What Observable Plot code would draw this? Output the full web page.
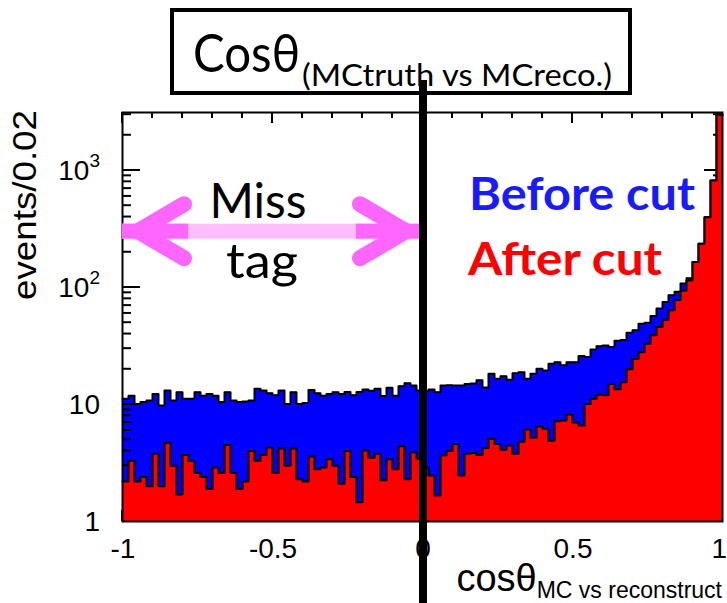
<!DOCTYPE html>
<html>
<head>
<meta charset="utf-8">
<script src="https://cdn.jsdelivr.net/npm/d3@7"></script>
<script src="https://cdn.jsdelivr.net/npm/@observablehq/plot@0.6"></script>
<style>
  html, body { margin: 0; padding: 0; background: #fff; }
  #chart { width: 727px; height: 603px; overflow: hidden; }
  #chart svg { display: block; }
</style>
</head>
<body>
<div id="chart"></div>
<script>
// cosθ histogram, 100 bins of width 0.02 on [-1, 1]
const binLow = -1;
const binWidth = 0.02;

// events per bin before the selection cut
const beforeCut = [
  11.2, 11.9, 10.1, 10.5, 10.8, 12.3, 9.8, 13.2, 10.8, 12.7,
  11.2, 11.2, 12.7, 11.9, 12.3, 11.9, 10.5, 12.7, 10.8, 10.5,
  10.6, 10.8, 13.6, 13.2, 12.5, 12.0, 13.2, 10.1, 12.7, 10.1,
  10.3, 13.3, 12.5, 11.9, 12.3, 12.7, 12.3, 12.8, 12.0, 12.8,
  13.4, 13.1, 13.6, 11.8, 13.9, 11.9, 14.3, 15.2, 14.5, 13.2,
  13.0, 13.4, 12.7, 14.5, 14.6, 14.5, 14.5, 15.0, 15.1, 16.1,
  14.0, 18.3, 16.6, 17.4, 16.3, 18.5, 18.9, 16.6, 18.3, 20.2,
  19.5, 22.3, 23.0, 21.6, 23.0, 23.0, 26.0, 25.5, 29.5, 31.5,
  32.0, 31.0, 35.0, 35.5, 41.0, 43.0, 49.0, 50.0, 57.0, 66.0,
  75.0, 86.0, 92.0, 108, 120, 165, 236, 398, 820, 3000
];

// events per bin after the selection cut
const afterCut = [
  2.2, 3.3, 2.2, 2.4, 2.0, 3.8, 2.0, 4.7, 3.0, 1.7,
  3.7, 3.3, 2.6, 2.4, 1.9, 2.9, 2.6, 4.5, 2.6, 1.9,
  2.2, 4.0, 3.3, 3.7, 4.3, 2.6, 4.2, 3.0, 4.2, 2.3,
  2.2, 3.6, 2.8, 2.9, 3.4, 3.0, 2.1, 4.0, 2.4, 1.46,
  4.05, 3.5, 3.8, 2.25, 3.4, 2.8, 4.4, 2.3, 3.9, 3.45,
  2.9, 2.47, 1.67, 3.66, 4.0, 4.6, 2.47, 3.8, 3.85, 3.7,
  4.25, 5.1, 4.6, 4.1, 4.46, 3.8, 4.8, 6.1, 5.2, 6.5,
  6.2, 4.9, 7.2, 7.3, 8.2, 7.0, 6.6, 10.1, 11.2, 12.1,
  12.0, 15.0, 13.5, 15.5, 20.0, 24.5, 28.0, 33.0, 39.0, 46.0,
  53.0, 64.0, 78.0, 94.0, 115, 165, 236, 398, 820, 3000
];

const xTickValues = [-1, -0.5, 0, 0.5, 1];
const xTickLabels = ["-1", "-0.5", "0", "0.5", "1"];
const yTickValues = [1, 10, 100, 1000];
const yTickBases = ["1", "10", "10", "10"];
const yTickExponents = ["", "", "2", "3"];

// region flagged as a wrong tag: cosθ < 0, drawn at 300 events
const missTagRange = [-1, 0];
const missTagLevel = 300;

// step points: left edge of every bin, plus the closing edge at x = 1
function steps(values) {
  const pts = values.map((v, i) => ({x: binLow + i * binWidth, v}));
  pts.push({x: binLow + values.length * binWidth, v: values[values.length - 1]});
  return pts;
}
const beforeSteps = steps(beforeCut);
const afterSteps = steps(afterCut);

const plot = Plot.plot({
  width: 727,
  height: 603,
  marginLeft: 122,
  marginRight: 5,
  marginTop: 112,
  marginBottom: 82,
  style: {background: "white", overflow: "visible"},
  x: {domain: [-1, 1], axis: null},
  y: {type: "log", domain: [1, 3130], axis: null},
  marks: [
    Plot.area(beforeSteps, {x1: "x", y1: () => 1, y2: "v", curve: "step-after", fill: "#0000ff"}),
    Plot.line(beforeSteps, {x: "x", y: "v", curve: "step-after", stroke: "black", strokeWidth: 2}),
    Plot.area(afterSteps, {x1: "x", y1: () => 1, y2: "v", curve: "step-after", fill: "#ff0000"}),
    Plot.line(afterSteps, {x: "x", y: "v", curve: "step-after", stroke: "black", strokeWidth: 2}),
    Plot.frame({stroke: "black", strokeWidth: 2})
  ]
});

document.getElementById("chart").appendChild(plot);

// pixel mapping taken from the plot's own scales
const sx = plot.scale("x"), sy = plot.scale("y");
const x = d3.scaleLinear(sx.domain, sx.range);
const y = d3.scaleLog(sy.domain, sy.range);
const [xl, xr] = x.range();
const [yb, yt] = y.range();

// inner ticks (ROOT style), drawn above the "before" fill and under the "after" fill
const ticks = d3.create("svg:g").attr("stroke", "black").attr("stroke-width", 2);
for (const v of y.ticks()) {
  if (v <= y.domain()[0]) continue;
  const len = yTickValues.includes(v) ? 18 : 9;
  const py = y(v);
  ticks.append("line").attr("x1", xl).attr("x2", xl + len).attr("y1", py).attr("y2", py);
  ticks.append("line").attr("x1", xr - len).attr("x2", xr).attr("y1", py).attr("y2", py);
}
for (const v of x.ticks(20)) {
  const major = Math.abs(v * 2 - Math.round(v * 2)) < 1e-9;
  const len = major ? 11 : 6;
  const px = x(v);
  ticks.append("line").attr("x1", px).attr("x2", px).attr("y1", yt).attr("y2", yt + len);
  ticks.append("line").attr("x1", px).attr("x2", px).attr("y1", yb).attr("y2", yb - len);
}
const markGroups = plot.querySelectorAll(":scope > g");
plot.insertBefore(ticks.node(), markGroups[2]);

const over = d3.select(plot).append("g").attr("text-anchor", "start");
const axisFont = "'Liberation Sans', Arial, Helvetica, sans-serif";
const noteFont = "Lato, 'Open Sans', sans-serif";

// y tick labels
yTickValues.forEach((v, i) => {
  const t = over.append("text")
    .attr("x", 100).attr("y", y(v) + 10)
    .attr("text-anchor", "end")
    .attr("font-family", axisFont).attr("font-size", 28).attr("fill", "black")
    .text(yTickBases[i]);
  if (yTickExponents[i]) {
    t.append("tspan").attr("font-size", 19).attr("dy", -13).text(yTickExponents[i]);
  }
});

// x tick labels (the last one sits against the right edge)
xTickValues.forEach((v, i) => {
  const last = i === xTickValues.length - 1;
  over.append("text")
    .attr("x", last ? 727 : x(v) + 1).attr("y", 558)
    .attr("text-anchor", last ? "end" : "middle")
    .attr("font-family", axisFont).attr("font-size", 28).attr("fill", "black")
    .text(xTickLabels[i]);
});

// axis titles
over.append("text")
  .attr("transform", "translate(36,110) rotate(-90)")
  .attr("text-anchor", "end")
  .attr("font-family", axisFont).attr("font-size", 34)
  .attr("textLength", 190).attr("lengthAdjust", "spacingAndGlyphs")
  .text("events/0.02");

const xt = over.append("text")
  .attr("x", xr).attr("y", 591)
  .attr("text-anchor", "end")
  .attr("font-family", axisFont).attr("font-size", 38);
xt.append("tspan").text("cosθ");
xt.append("tspan").attr("font-size", 23).attr("dy", 7).text("MC vs reconstruct");

// miss-tag double arrow over cosθ < 0
const ay = y(missTagLevel);
const ax0 = x(missTagRange[0]), ax1 = x(missTagRange[1]);
const headLen = 66;
over.append("rect").attr("x", ax0).attr("y", ay - 7.5).attr("width", ax1 - ax0).attr("height", 15).attr("fill", "#ffbfff");
over.append("rect").attr("x", ax0).attr("y", ay - 7.5).attr("width", headLen).attr("height", 15).attr("fill", "#ff66ff");
over.append("rect").attr("x", ax1 - headLen).attr("y", ay - 7.5).attr("width", headLen).attr("height", 15).attr("fill", "#ff66ff");
const armW = 16, tipIn = 16, armDx = 46, armDy = 27;
[[ax0, 1], [ax1, -1]].forEach(([tx, dir]) => {
  const vx = tx + dir * tipIn;
  over.append("path")
    .attr("d", `M${vx + dir * armDx},${ay - armDy}L${vx},${ay}L${vx + dir * armDx},${ay + armDy}`)
    .attr("fill", "none").attr("stroke", "#ff66ff").attr("stroke-width", armW)
    .attr("stroke-linejoin", "miter").attr("stroke-miterlimit", 10).attr("stroke-linecap", "round");
});

over.append("text").attr("x", 258).attr("y", 218).attr("text-anchor", "middle")
  .attr("font-family", noteFont).attr("font-size", 48)
  .attr("textLength", 97).attr("lengthAdjust", "spacingAndGlyphs").text("Miss");
over.append("text").attr("x", 262).attr("y", 278).attr("text-anchor", "middle")
  .attr("font-family", noteFont).attr("font-size", 48)
  .attr("textLength", 72).attr("lengthAdjust", "spacingAndGlyphs").text("tag");

// legend text
over.append("text").attr("x", 469).attr("y", 210).attr("text-anchor", "start")
  .attr("font-family", noteFont).attr("font-weight", "bold").attr("font-size", 45).attr("fill", "#1a1aff")
  .attr("textLength", 226).attr("lengthAdjust", "spacingAndGlyphs").text("Before cut");
over.append("text").attr("x", 468).attr("y", 275).attr("text-anchor", "start")
  .attr("font-family", noteFont).attr("font-weight", "bold").attr("font-size", 45).attr("fill", "#ff0000")
  .attr("textLength", 194).attr("lengthAdjust", "spacingAndGlyphs").text("After cut");

// title box
over.append("rect").attr("x", 172).attr("y", 10).attr("width", 458).attr("height", 83)
  .attr("fill", "white").attr("stroke", "black").attr("stroke-width", 4);
over.append("text").attr("x", 193).attr("y", 72).attr("text-anchor", "start")
  .attr("font-family", noteFont).attr("font-size", 52)
  .attr("textLength", 107).attr("lengthAdjust", "spacingAndGlyphs").text("Cosθ");
over.append("text").attr("x", 302).attr("y", 86).attr("text-anchor", "start")
  .attr("font-family", noteFont).attr("font-size", 30)
  .attr("textLength", 310).attr("lengthAdjust", "spacingAndGlyphs").text("(MCtruth vs MCreco.)");

// boundary at cosθ = 0
over.append("line")
  .attr("x1", x(0) + 1).attr("x2", x(0) + 1).attr("y1", 80).attr("y2", 603)
  .attr("stroke", "black").attr("stroke-width", 8);
</script>
</body>
</html>
